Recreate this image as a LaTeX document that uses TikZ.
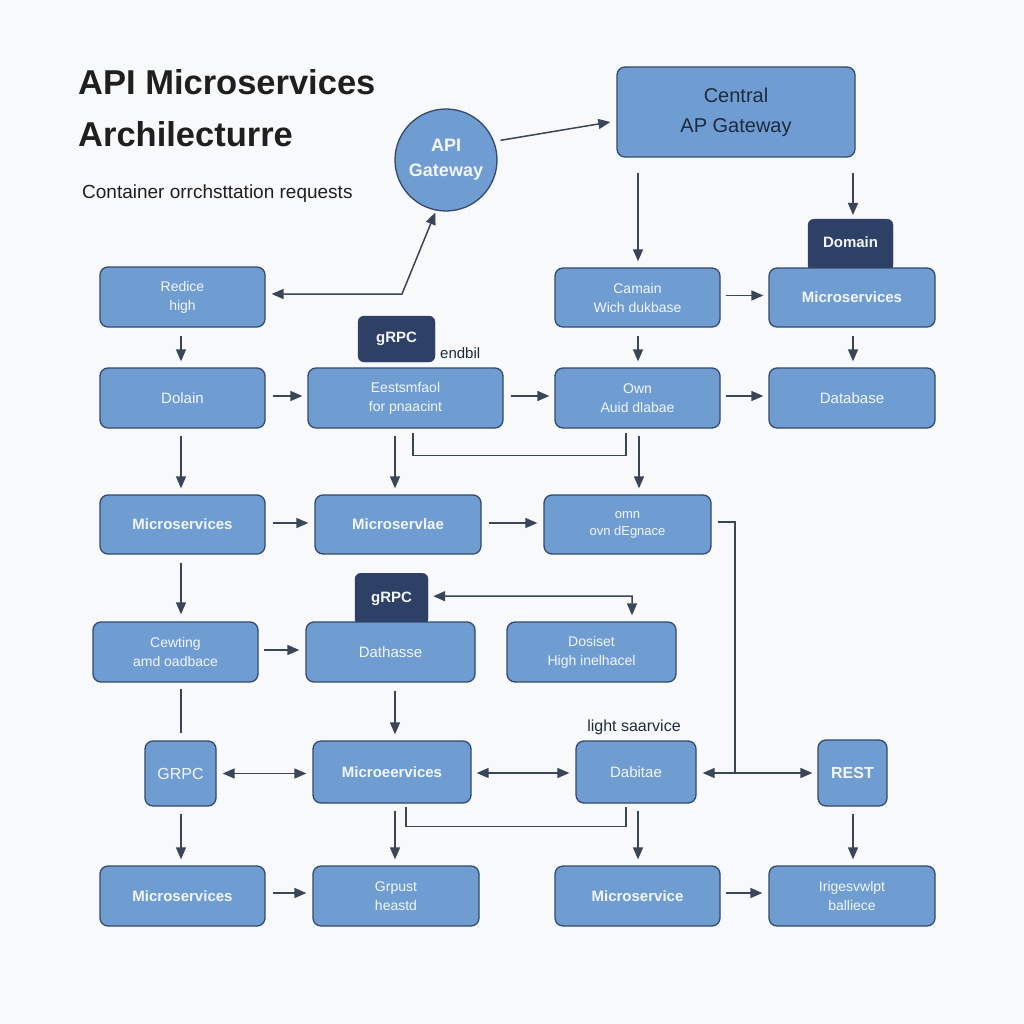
\documentclass[tikz,border=0pt]{standalone}
\usepackage{fontspec}
\setmainfont{Liberation Sans}
\usetikzlibrary{arrows.meta,calc}
\definecolor{boxfill}{HTML}{6F9DD2}
\definecolor{boxline}{HTML}{34496B}
\definecolor{tabfill}{HTML}{2E4066}
\definecolor{linec}{HTML}{3A4558}
\definecolor{txtw}{HTML}{F2F6FB}
\definecolor{bg}{HTML}{F8F9FB}
\definecolor{dtext}{HTML}{1E2A3E}
\begin{document}
\begin{tikzpicture}[x=1pt,y=-1pt,
  box/.style={draw=boxline,fill=boxfill,line width=1.3pt,rounded corners=8pt,inner sep=0pt,
    text=txtw,font=\fontsize{14}{19}\selectfont,align=center},
  bbox/.style={box,font=\fontsize{15}{19}\selectfont\bfseries},
  tab/.style={draw=tabfill,fill=tabfill,rounded corners=6pt,inner sep=0pt,text=txtw,
    font=\fontsize{15}{18}\selectfont\bfseries,align=center},
  arr/.style={-{Triangle[length=12pt,width=10pt]},line width=1.5pt,draw=linec},
  arrd/.style={{Triangle[length=12pt,width=10pt]}-{Triangle[length=12pt,width=10pt]},line width=1.5pt,draw=linec},
  ln/.style={line width=1.5pt,draw=linec},
  lbl/.style={inner sep=0pt,text=dtext,font=\fontsize{15}{18}\selectfont}]
\useasboundingbox (0,0) rectangle (1024,1024);
\fill[bg] (0,0) rectangle (1024,1024);

% titles
\node[anchor=west,inner sep=0pt,text=black!88,font=\fontsize{34.5}{38}\selectfont\bfseries] (t1) at (78,82) {API Microservices};
\node[anchor=west,inner sep=0pt,text=black!88,font=\fontsize{34.5}{38}\selectfont\bfseries] (t2) at (78,134) {Archilecturre};
\node[anchor=west,inner sep=0pt,text=black!88,font=\fontsize{19}{22}\selectfont] (t3) at (82,194) {Container orrchsttation requests};

% top
\node[circle,draw=boxline,fill=boxfill,line width=1.3pt,minimum size=102pt,inner sep=0pt,
  text=txtw,align=center,font=\fontsize{18}{25}\selectfont\bfseries] (circ) at (446,160) {API\\Gateway};
\node[box,minimum width=238pt,minimum height=90pt,text=dtext,font=\fontsize{20}{30}\selectfont] (central) at (736,112) {Central\\AP Gateway};

% tabs
\node[tab,minimum width=85pt,minimum height=52pt,anchor=north] (domtab) at (850.5,219) {\raisebox{6pt}{Domain}};
\node[tab,minimum width=77pt,minimum height=46pt] (grpc1) at (396.5,339) {gRPC};
\node[tab,minimum width=73pt,minimum height=52pt,anchor=north] (grpc2) at (391.5,573) {\raisebox{3pt}{gRPC}};

% row 1
\node[box,minimum width=165pt,minimum height=60pt] (redice) at (182.5,297) {Redice\\high};
\node[box,minimum width=165pt,minimum height=59pt] (camain) at (637.5,297.5) {Camain\\Wich dukbase};
\node[bbox,minimum width=166pt,minimum height=59pt] (micro1) at (852,297.5) {\raisebox{-4pt}{Microservices}};
% row 2
\node[box,minimum width=165pt,minimum height=60pt,font=\fontsize{15}{19}\selectfont] (dolain) at (182.5,398) {Dolain};
\node[box,minimum width=195pt,minimum height=60pt] (eest) at (405.5,398) {Eestsmfaol\\for pnaacint};
\node[box,minimum width=165pt,minimum height=60pt] (own) at (637.5,398) {Own\\Auid dlabae};
\node[box,minimum width=166pt,minimum height=60pt,font=\fontsize{15}{19}\selectfont] (database) at (852,398) {Database};
\node[lbl,anchor=west] (endbil) at (440,353) {endbil};
% row 3
\node[bbox,minimum width=165pt,minimum height=59pt] (ms3a) at (182.5,524.5) {Microservices};
\node[bbox,minimum width=166pt,minimum height=59pt] (ms3b) at (398,524.5) {Microservlae};
\node[box,minimum width=167pt,minimum height=59pt,font=\fontsize{13}{17}\selectfont] (omn) at (627.5,524.5) {omn\\ovn dEgnace};
% row 4
\node[box,minimum width=165pt,minimum height=60pt] (cew) at (175.5,652) {Cewting\\amd oadbace};
\node[box,minimum width=169pt,minimum height=60pt,font=\fontsize{15}{19}\selectfont] (dath) at (390.5,652) {Dathasse};
\node[box,minimum width=169pt,minimum height=60pt] (dosi) at (591.5,652) {Dosiset\\High inelhacel};
% row 5
\node[box,minimum width=71pt,minimum height=65pt,font=\fontsize{16}{19}\selectfont] (grpc3) at (180.5,773.5) {GRPC};
\node[bbox,minimum width=158pt,minimum height=62pt] (mse) at (392,772) {Microeervices};
\node[box,minimum width=120pt,minimum height=62pt,font=\fontsize{15}{19}\selectfont] (dabi) at (636,772) {Dabitae};
\node[lbl,font=\fontsize{16}{18}\selectfont] (light) at (634,727) {light saarvice};
\node[box,minimum width=69pt,minimum height=66pt,font=\fontsize{16}{19}\selectfont\bfseries] (rest) at (852.5,773) {REST};
% row 6
\node[bbox,minimum width=165pt,minimum height=60pt] (r6a) at (182.5,896) {Microservices};
\node[box,minimum width=166pt,minimum height=60pt] (r6b) at (396,896) {Grpust\\heastd};
\node[bbox,minimum width=165pt,minimum height=60pt] (r6c) at (637.5,896) {Microservice};
\node[box,minimum width=166pt,minimum height=60pt] (r6d) at (852,896) {Irigesvwlpt\\balliece};

% coordinates
\coordinate (k1) at (402,294);
\coordinate (k2) at (735,773);
\coordinate (k3) at (632,596);

% connectors
\draw[arr] ($(circ.20)+(6,-2)$) -- ($(central.west)+(-6,10)$);
\draw[arrd] ($(redice.east)+(6,-3)$) -- (k1) -- ($(circ.-102)+(0,2)$);
\draw[arr] ($(central.south)+(-98,15)$) -- ($(camain.north)+(0.5,-6)$);
\draw[arr] ($(central.south)+(117,15)$) -- ($(domtab.north)+(2.5,-4)$);
\draw[arr] ($(camain.east)+(5,-2)$) -- ($(micro1.west)+(-5,-2)$);
\draw[arr] ($(camain.south)+(0.5,8)$) -- ($(own.north)+(0.5,-6)$);
\draw[arr] ($(micro1.south)+(1,8)$) -- ($(database.north)+(1,-6)$);
\draw[arr] ($(redice.south)+(-1.5,8)$) -- ($(dolain.north)+(-1.5,-6)$);
\draw[arr] ($(dolain.east)+(7,-2)$) -- ($(eest.west)+(-5,-2)$);
\draw[arr] ($(eest.east)+(7,-2)$) -- ($(own.west)+(-5,-2)$);
\draw[arr] ($(own.east)+(5,-2)$) -- ($(database.west)+(-5,-2)$);
\draw[arr] ($(eest.south)+(-10.5,7)$) -- ($(ms3b.north)+(-3,-6)$);
\draw[ln] ($(eest.south)+(7.5,4)$) -- ++(0,23) -| ($(own.south)+(-11.5,4)$);
\draw[arr] ($(own.south)+(1.5,7)$) -- ($(omn.north)+(11.5,-6)$);
\draw[arr] ($(dolain.south)+(-1.5,7)$) -- ($(ms3a.north)+(-1.5,-6)$);
\draw[arr] ($(ms3a.east)+(7,-1.5)$) -- ($(ms3b.west)+(-6,-1.5)$);
\draw[arr] ($(ms3b.east)+(7,-1.5)$) -- ($(omn.west)+(-6,-1.5)$);
\draw[ln] ($(omn.east)+(6,-2.5)$) -| (k2);
\draw[arrd] ($(dabi.east)+(6,1)$) -- ($(rest.west)+(-5,0)$);
\draw[arr] ($(ms3a.south)+(-1.5,8)$) -- ($(cew.north)+(5.5,-7)$);
\draw[arrd] ($(grpc2.east)+(5,-3)$) -- (k3) -- ($(dosi.north)+(40.5,-6)$);
\draw[arr] ($(cew.east)+(5,-2)$) -- ($(dath.west)+(-6,-2)$);
\draw[ln] ($(cew.south)+(5.5,6)$) -- ($(grpc3.north)+(0.5,-7)$);
\draw[arr] ($(dath.south)+(4.5,8)$) -- ($(mse.north)+(3,-6)$);
\draw[arrd] ($(grpc3.east)+(6,0)$) -- ($(mse.west)+(-6,1.5)$);
\draw[arrd] ($(mse.east)+(5,1)$) -- ($(dabi.west)+(-6,1)$);
\draw[ln] ($(mse.south)+(14,3)$) -- ++(0,20) -| ($(dabi.south)+(-10,3)$);
\draw[arr] ($(dabi.south)+(2,7)$) -- ($(r6c.north)+(0.5,-6)$);
\draw[arr] ($(mse.south)+(3,7)$) -- ($(r6b.north)+(-1,-6)$);
\draw[arr] ($(grpc3.south)+(0.5,7)$) -- ($(r6a.north)+(-1.5,-6)$);
\draw[arr] ($(rest.south)+(0.5,7)$) -- ($(r6d.north)+(1,-6)$);
\draw[arr] ($(r6a.east)+(7,-3)$) -- ($(r6b.west)+(-6,-3)$);
\draw[arr] ($(r6c.east)+(5,-3)$) -- ($(r6d.west)+(-6,-3)$);
\end{tikzpicture}
\end{document}
